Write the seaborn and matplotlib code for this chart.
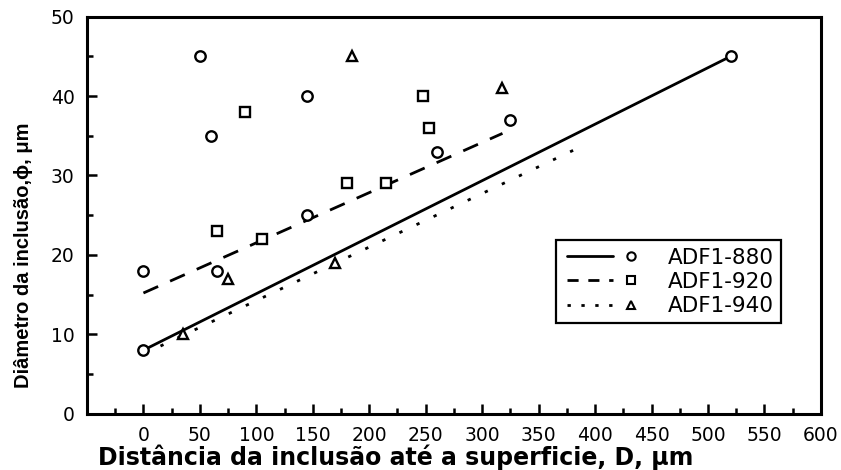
import matplotlib
matplotlib.use('Agg')
import matplotlib.pyplot as plt
import seaborn as sb
from matplotlib.lines import Line2D

# Data points (D in um, diameter in um)
x880 = [0, 0, 50, 60, 65, 145, 145, 260, 325, 520]
y880 = [8, 18, 45, 35, 18, 40, 25, 33, 37, 45]
x920 = [65, 90, 105, 180, 215, 248, 253]
y920 = [23, 38, 22, 29, 29, 40, 36]
x940 = [35, 75, 170, 185, 318]
y940 = [10, 17, 19, 45, 41]

# Fitted lines (endpoints)
fit880_x = [0, 520]
fit880_y = [8, 45]
fit920_x = [0, 318]
fit920_y = [15.2, 35.3]
fit940_x = [0, 390]
fit940_y = [7.5, 33.8]

labels = ['ADF1-880', 'ADF1-920', 'ADF1-940']

DASH = [5.8, 4.7]
DOT = [1.2, 5.6]

sb.set_style('white')
plt.rcParams['font.family'] = ['DejaVu Sans']
plt.rcParams['text.color'] = 'black'
plt.rcParams['axes.labelcolor'] = 'black'
plt.rcParams['xtick.color'] = 'black'
plt.rcParams['ytick.color'] = 'black'

fig = plt.figure(figsize=(8.41, 4.70), dpi=100)
ax = fig.add_axes([0.1034, 0.1198, 0.8727, 0.8447])

sb.lineplot(x=fit880_x, y=fit880_y, ax=ax, color='black', linewidth=2.0)
sb.lineplot(x=fit920_x, y=fit920_y, ax=ax, color='black', linewidth=2.0)
ax.lines[-1].set_dashes(DASH)
sb.lineplot(x=fit940_x, y=fit940_y, ax=ax, color='black', linewidth=2.0)
ax.lines[-1].set_dashes(DOT)

mk = dict(color='black', markerfacecolor='white', markeredgecolor='black',
          markeredgewidth=1.7, markersize=7.5, linestyle='none')
ax.plot(x880, y880, marker='o', **mk)
ax.plot(x920, y920, marker='s', **mk)
ax.plot(x940, y940, marker='^', **mk)

ax.set_xlim(-50, 600)
ax.set_ylim(0, 50)
ax.set_xticks(range(0, 601, 50))
ax.set_xticks(range(-25, 600, 50), minor=True)
ax.set_yticks(range(0, 51, 10))
ax.set_yticks(range(5, 50, 10), minor=True)
ax.tick_params(which='both', direction='in', color='black', labelcolor='black',
               width=1.8, labelsize=13.5, bottom=True, left=True)
ax.tick_params(axis='x', pad=9)
ax.tick_params(axis='y', pad=9)
ax.tick_params(which='major', length=7.5)
ax.tick_params(which='minor', length=4.5)
for s in ax.spines.values():
    s.set_color('black')
    s.set_linewidth(2.2)

ax.set_xlabel('Distância da inclusão até a superficie, D, μm',
              fontsize=17, fontweight='bold', color='black')
ax.xaxis.set_label_coords(0.42, -0.078)
ax.xaxis.label.set_va('top')
ax.set_ylabel('Diâmetro da inclusão,ϕ, μm', fontsize=14.5, fontweight='bold',
              family='Liberation Sans', color='black')
ax.yaxis.set_label_coords(-0.0736, 0.40)


class LineMarkerHandler:
    # short line segment followed by the marker, as in the original legend
    def legend_artist(self, legend, orig_handle, fontsize, handlebox):
        x0, y0 = -handlebox.xdescent, -handlebox.ydescent
        w, h = handlebox.width, handlebox.height
        yc = y0 + h / 2
        line = Line2D([x0 + 0.05 * w, x0 + 0.63 * w], [yc, yc], color='black',
                      linewidth=2.0)
        dashes = orig_handle.get_gid()
        if dashes is not None:
            line.set_dashes(dashes)
        mark = Line2D([x0 + 0.85 * w], [yc], marker=orig_handle.get_marker(),
                      markerfacecolor='white', markeredgecolor='black',
                      markeredgewidth=1.5, markersize=6, linestyle='none')
        handlebox.add_artist(line)
        handlebox.add_artist(mark)
        return line


handles = []
for m, d in zip(['o', 's', '^'], [None, [4.0, 3.5], [1.2, 3.8]]):
    h = Line2D([], [], marker=m, color='black')
    h.set_gid(d)
    handles.append(h)

leg = ax.legend(handles, labels, handler_map={Line2D: LineMarkerHandler()},
                loc='upper left', bbox_to_anchor=(0.639, 0.437),
                fontsize=15.5, frameon=True, fancybox=False, framealpha=1,
                handlelength=3.7, handletextpad=1.15, borderpad=0.34,
                labelspacing=0.2, borderaxespad=0)
leg.get_frame().set_edgecolor('black')
leg.get_frame().set_linewidth(1.6)

fig.savefig('out.png', dpi=100)
